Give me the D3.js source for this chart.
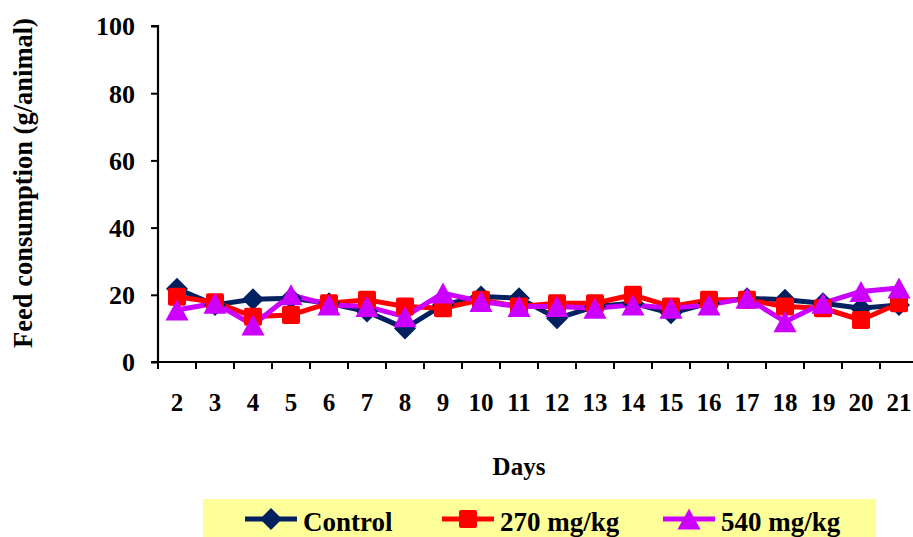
<!DOCTYPE html>
<html><head><meta charset="utf-8">
<script src="https://cdn.jsdelivr.net/npm/d3@7/dist/d3.min.js"></script>
<style>body{margin:0;background:#fff;}svg{display:block;}</style>
</head><body>
<svg id="chart" width="913" height="537"></svg>
<script>
const days = ["2","3","4","5","6","7","8","9","10","11","12","13","14","15","16","17","18","19","20","21"];
const control = [21.8,17,18.7,19,17.5,15,10,17,19.5,19,13,16.5,17.5,14.5,17.5,19,18.5,17.5,16,17];
const mg270   = [19.4,17.8,13.5,14,17.5,18.5,16.5,16,18.5,16.5,17.5,17.5,20,16.5,18.5,18.5,16.5,16,12.5,17.5];
const mg540   = [15.5,17.5,11,20,17,16.5,13.5,20.5,18,16.5,16.5,16,17,16,17,19,12,17.5,21,22];
const yTicks = [0,20,40,60,80,100];
const seriesNames = ["Control","270 mg/kg","540 mg/kg"];
const colors = ["#002060","#FF0000","#CC00FF"];

// marker shapes (custom d3 symbol types; size = half-extent in px)
const diamond = {draw(c,s){c.moveTo(0,-s);c.lineTo(s,0);c.lineTo(0,s);c.lineTo(-s,0);c.closePath();}};
const square = {draw(c,s){const r=2;c.moveTo(-s+r,-s);c.lineTo(s-r,-s);c.quadraticCurveTo(s,-s,s,-s+r);c.lineTo(s,s-r);c.quadraticCurveTo(s,s,s-r,s);c.lineTo(-s+r,s);c.quadraticCurveTo(-s,s,-s,s-r);c.lineTo(-s,-s+r);c.quadraticCurveTo(-s,-s,-s+r,-s);c.closePath();}};
const triangle = {draw(c,s){c.moveTo(0,-s);c.lineTo(s*1.1,s);c.lineTo(-s*1.1,s);c.closePath();}};
const symbols = [diamond, square, triangle];
const symSizes = [11, 9, 10.5];

const svg = d3.select("#chart");
const pLeft = 158, pRight = 918, pTop = 26, pBottom = 362;
const x = d3.scaleBand().domain(days).range([pLeft, pRight]);
const y = d3.scaleLinear().domain([0,100]).range([pBottom, pTop]);
const font = "Liberation Serif, Times New Roman, serif";

// y axis
const ya = svg.append("g").attr("transform",`translate(${pLeft},0)`)
  .call(d3.axisLeft(y).tickValues(yTicks).tickSize(7).tickPadding(16));
ya.select(".domain").attr("stroke","#000").attr("stroke-width",2.2).attr("d",`M-7,${pTop}H0V${pBottom}`);
ya.selectAll(".tick line").attr("stroke","#000").attr("stroke-width",2);
ya.selectAll(".tick text").attr("font-family",font).attr("font-weight","bold").attr("font-size",26).attr("fill","#000").attr("dy","0.34em");

// x axis
const xa = svg.append("g").attr("transform",`translate(0,${pBottom})`)
  .call(d3.axisBottom(x).tickSize(0).tickPadding(31));
xa.select(".domain").attr("stroke","#000").attr("stroke-width",2.2).attr("d",`M${pLeft-7},0H${pRight}`);
xa.selectAll(".tick text").attr("font-family",font).attr("font-weight","bold").attr("font-size",25).attr("fill","#000");
// band boundary ticks
const bounds = days.map(d => x(d));
svg.append("g").selectAll("line").data(bounds).join("line")
  .attr("x1",d=>d).attr("x2",d=>d).attr("y1",pBottom).attr("y2",pBottom+7)
  .attr("stroke","#000").attr("stroke-width",2);

// axis titles
svg.append("text").attr("transform",`translate(32,183) rotate(-90)`)
  .attr("text-anchor","middle").attr("font-family",font).attr("font-weight","bold")
  .attr("font-size",26.5).text("Feed consumption (g/animal)");
svg.append("text").attr("x",519).attr("y",475).attr("text-anchor","middle")
  .attr("font-family",font).attr("font-weight","bold").attr("font-size",25).text("Days");

// series
const data = [control, mg270, mg540];
const cx = d => x(d) + x.bandwidth()/2;
data.forEach((vals,i) => {
  const pts = vals.map((v,j)=>[cx(days[j]), y(v)]);
  svg.append("path").attr("d", d3.line()(pts)).attr("fill","none")
    .attr("stroke",colors[i]).attr("stroke-width",5).attr("stroke-linejoin","round");
});
data.forEach((vals,i) => {
  svg.append("g").selectAll("path").data(vals).join("path")
    .attr("transform",(v,j)=>`translate(${cx(days[j])},${y(v)})`)
    .attr("d", d3.symbol().type(symbols[i]).size(symSizes[i]))
    .attr("fill",colors[i]);
});

// legend
const lg = svg.append("g");
lg.append("rect").attr("x",203).attr("y",499).attr("width",673).attr("height",40).attr("fill","#FFFF99");
const legX = [245, 442, 663];
seriesNames.forEach((n,i)=>{
  const g = lg.append("g").attr("transform",`translate(${legX[i]},519)`);
  g.append("line").attr("x1",0).attr("x2",52).attr("stroke",colors[i]).attr("stroke-width",5);
  g.append("path").attr("transform",`translate(26,0)`).attr("d", d3.symbol().type(symbols[i]).size(symSizes[i])).attr("fill",colors[i]);
  g.append("text").attr("x",58).attr("y",12).attr("font-family",font).attr("font-weight","bold")
    .attr("font-size",27).text(n);
});
</script>
</body></html>
